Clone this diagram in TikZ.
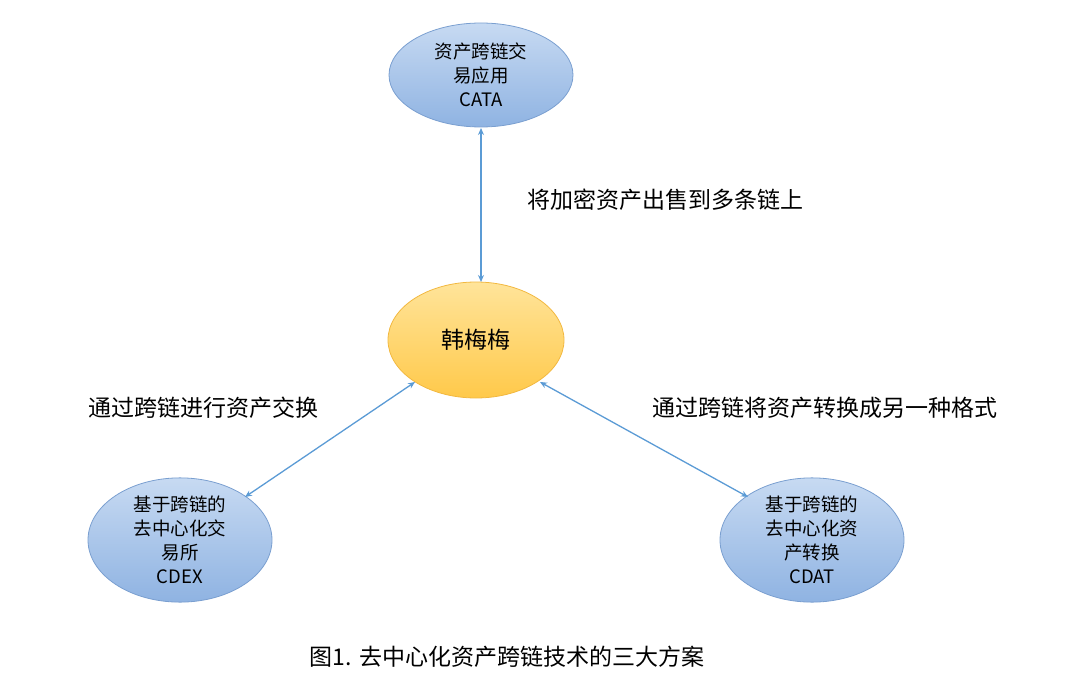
\documentclass[tikz,border=0pt]{standalone}
\usepackage{fontspec}
\setmainfont{Noto Sans CJK SC}
\usetikzlibrary{arrows.meta,shapes.geometric}
\definecolor{bedge}{HTML}{7A9FD0}
\definecolor{btop}{HTML}{C7DAF2}
\definecolor{bbot}{HTML}{8FB3E2}
\definecolor{oedge}{HTML}{F2B840}
\definecolor{otop}{HTML}{FFE49A}
\definecolor{obot}{HTML}{FFC94A}
\definecolor{aline}{HTML}{5B9BD5}
\begin{document}
\begin{tikzpicture}[x=1pt,y=-1pt,
  bnode/.style={ellipse,draw=bedge,line width=0.8pt,top color=btop,bottom color=bbot,align=center,font=\fontsize{18.5}{24}\selectfont,inner sep=0pt},
  onode/.style={ellipse,draw=oedge,line width=0.8pt,top color=otop,bottom color=obot,font=\fontsize{23}{26}\selectfont,inner sep=0pt},
  arr/.style={{Stealth[length=7pt,width=6pt]}-{Stealth[length=7pt,width=6pt]},draw=aline,line width=1.3pt},
  lab/.style={font=\fontsize{23}{26}\selectfont,anchor=west,inner sep=0pt}]
\useasboundingbox (0,0) rectangle (1080,690);
\node[bnode,minimum width=184,minimum height=104] (cata) at (481,75) {资产跨链交\\易应用\\CATA};
\node[onode,minimum width=176,minimum height=116] (h) at (476,340) {韩梅梅};
\node[bnode,minimum width=184,minimum height=116] (cdex) at (180,540) {基于跨链的\\去中心化交\\易所\\CDEX};
\node[bnode,minimum width=184,minimum height=116] (cdat) at (812,540) {基于跨链的\\去中心化资\\产转换\\CDAT};
\coordinate (a1) at (481,128); \coordinate (a2) at (481,282);
\coordinate (b1) at (415,382); \coordinate (b2) at (245,497);
\coordinate (c1) at (540,382); \coordinate (c2) at (748,497);
\draw[arr] (a1) -- (a2);
\draw[arr] (b1) -- (b2);
\draw[arr] (c1) -- (c2);
\node[lab] (l1) at (527,200) {将加密资产出售到多条链上};
\node[lab] (l2) at (88,408) {通过跨链进行资产交换};
\node[lab] (l3) at (652,408) {通过跨链将资产转换成另一种格式};
\node[font=\fontsize{23}{26}\selectfont] (cap) at (507,657) {图1. 去中心化资产跨链技术的三大方案};
\end{tikzpicture}
\end{document}
